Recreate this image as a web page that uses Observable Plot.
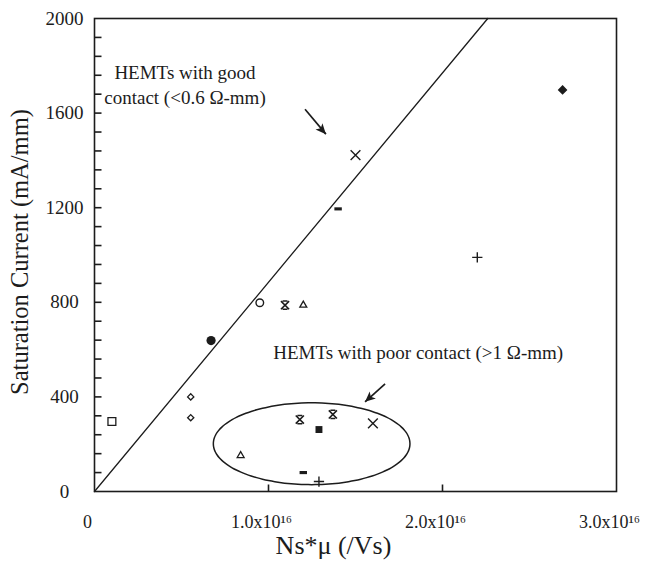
<!DOCTYPE html>
<html><head><meta charset="utf-8">
<script src="https://cdn.jsdelivr.net/npm/d3@7"></script>
<script src="https://cdn.jsdelivr.net/npm/@observablehq/plot@0.6"></script>
<style>body{margin:0;background:#fff}</style>
</head><body><div id="chart"></div>
<script>
// ---- axis ticks and labels ----
const xTickValues = [0, 1e16, 2e16, 3e16];
const xTickLabels = ["0", "1.0x10¹⁶", "2.0x10¹⁶", "3.0x10¹⁶"];
const xInnerTicks = [1e16, 2e16];
const yTickValues = [0, 400, 800, 1200, 1600, 2000];
const yMinorTicks = [80,160,240,320,400,480,560,640,720,800,880,960,1040,1120,1200,1280,1360,1440,1520,1600,1680,1760,1840,1920];
const xTitle = "Ns*μ (/Vs)";
const yTitle = "Saturation Current (mA/mm)";

// ---- data series: [Ns*mu (/Vs), saturation current (mA/mm)] ----
const openSquare    = [[0.10e16, 296]];
const openDiamond   = [[0.553e16, 400], [0.553e16, 312]];
const filledCircle  = [[0.67e16, 638]];
const openCircle    = [[0.95e16, 798]];
const barredCross   = [[1.095e16, 788], [1.18e16, 304], [1.37e16, 326]];
const openTriangle  = [[1.20e16, 788], [0.84e16, 152]];
const filledSquare  = [[1.29e16, 262]];
const crossX        = [[1.50e16, 1422], [1.60e16, 288]];
const dash          = [[1.40e16, 1195], [1.20e16, 80]];
const plusSign      = [[2.20e16, 990], [1.29e16, 42]];
const filledDiamond = [[2.69e16, 1698]];

// guide line through the origin
const fitLine = [[0, 0], [2.26e16, 2000]];

// ---- annotations ----
const labels = [
  {text: "HEMTs with good\ncontact (<0.6 Ω-mm)", x: 0.52e16, y: 1727},
  {text: "HEMTs with poor contact (>1 Ω-mm)", x: 1.86e16, y: 594}
];
const arrows = [
  {x1: 1.21e16, y1: 1616, x2: 1.33e16, y2: 1511, angle: 48},
  {x1: 1.67e16, y1: 455, x2: 1.555e16, y2: 379, angle: 138}
];
const ellipse = {cx: 1.248e16, cy: 202, rx: 0.565e16, ry: 173};
const ellipsePts = d3.range(0, 361, 4).map(a => [
  ellipse.cx + ellipse.rx * Math.cos(a * Math.PI / 180),
  ellipse.cy + ellipse.ry * Math.sin(a * Math.PI / 180)
]);

// ---- custom marker shapes ----
const symBarredCross = {draw(c, size) {
  const s = Math.sqrt(size) * 0.5, b = s * 0.6;
  c.moveTo(-s, -s); c.lineTo(s, s); c.moveTo(s, -s); c.lineTo(-s, s);
  c.moveTo(-b, -s); c.lineTo(b, -s); c.moveTo(-b, s); c.lineTo(b, s);
}};
const symDash = {draw(c, size) {
  const w = Math.sqrt(size) * 1.0, h = w * 0.42;
  c.rect(-w / 2, -h / 2, w, h);
}};
const symHead = {draw(c, size) {
  const L = Math.sqrt(size) * 1.3, W = L * 0.45;
  c.moveTo(0, 0); c.lineTo(-L, -W); c.lineTo(-L * 0.75, 0); c.lineTo(-L, W); c.closePath();
}};
// inward tick shapes, drawn as markers anchored on the axis
const symTickRight = {draw(c) { c.moveTo(0, 0); c.lineTo(7, 0); }};
const symTickUp = {draw(c) { c.moveTo(0, 0); c.lineTo(0, -7); }};

const F = "'Liberation Serif','Times New Roman',serif";
const ink = "#1c1c1c";

const chart = Plot.plot({
  width: 646, height: 571,
  marginLeft: 94, marginRight: 30, marginTop: 18, marginBottom: 80,
  style: {fontFamily: F, background: "#fff", color: ink},
  x: {domain: [0, 3e16], axis: null},
  y: {domain: [0, 2000], axis: null},
  marks: [
    Plot.frame({stroke: ink, strokeWidth: 1.6, fill: "none"}),
    Plot.dot(yMinorTicks, {y: d => d, frameAnchor: "left", symbol: symTickRight, r: 3, stroke: ink, strokeWidth: 1.6}),
    Plot.dot(xInnerTicks, {x: d => d, frameAnchor: "bottom", symbol: symTickUp, r: 3, stroke: ink, strokeWidth: 1.6}),
    Plot.text(yTickValues, {y: d => d, text: d => String(d), frameAnchor: "left", dx: -30, textAnchor: "middle", fontSize: 19, fill: ink}),
    Plot.text(xTickValues, {x: d => d, text: (d, i) => xTickLabels[i], frameAnchor: "bottom", dy: 36, dx: -7, textAnchor: "middle", fontSize: 18, fill: ink}),
    Plot.text([yTitle], {frameAnchor: "left", dx: -74, dy: -3, rotate: -90, textAnchor: "middle", fontSize: 24.5, fill: ink}),
    Plot.text([xTitle], {frameAnchor: "bottom", dy: 62, dx: -22, textAnchor: "middle", fontSize: 26, fill: ink}),
    Plot.line(fitLine, {stroke: ink, strokeWidth: 1.3}),
    Plot.line(ellipsePts, {stroke: ink, strokeWidth: 1.5, curve: "catmull-rom"}),
    Plot.text(labels, {x: "x", y: "y", text: "text", fontSize: 19, lineHeight: 1.33, fill: ink}),
    Plot.link(arrows, {x1: "x1", y1: "y1", x2: "x2", y2: "y2", stroke: ink, strokeWidth: 1.7}),
    Plot.dot(arrows, {x: "x2", y: "y2", symbol: symHead, r: 4.5, fill: ink, stroke: "none", rotate: "angle"}),
    Plot.dot(openSquare, {symbol: "square2", r: 5, stroke: ink, strokeWidth: 1.3}),
    Plot.dot(openDiamond, {symbol: "diamond2", r: 2.8, stroke: ink, strokeWidth: 1.3}),
    Plot.dot(filledCircle, {symbol: "circle", r: 4.6, fill: ink}),
    Plot.dot(openCircle, {symbol: "circle", r: 3.8, stroke: ink, strokeWidth: 1.4}),
    Plot.dot(barredCross, {symbol: symBarredCross, r: 4.6, stroke: ink, strokeWidth: 1.6}),
    Plot.dot(openTriangle, {symbol: "triangle2", r: 3.3, stroke: ink, strokeWidth: 1.3}),
    Plot.dot(filledSquare, {symbol: "square", r: 3.9, fill: ink}),
    Plot.dot(crossX, {symbol: "times", r: 4.5, stroke: ink, strokeWidth: 1.4}),
    Plot.dot(dash, {symbol: symDash, r: 4.2, fill: ink}),
    Plot.dot(plusSign, {symbol: "plus", r: 3.4, stroke: ink, strokeWidth: 1.4}),
    Plot.dot(filledDiamond, {symbol: "diamond2", r: 3.4, fill: ink, stroke: ink})
  ]
});
document.getElementById("chart").appendChild(chart);
</script>
</body></html>
